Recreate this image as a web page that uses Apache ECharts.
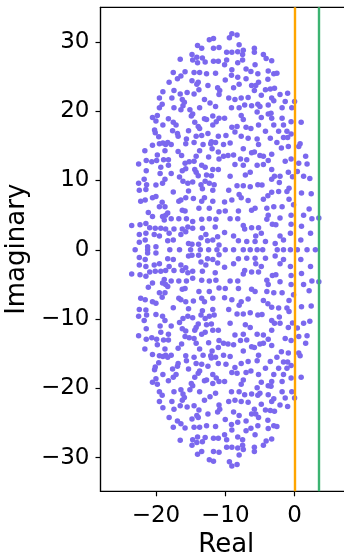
<!DOCTYPE html>
<html><head><meta charset="utf-8">
<script src="https://cdn.jsdelivr.net/npm/echarts@6/dist/echarts.min.js"></script>
<style>html,body{margin:0;padding:0;background:#fff}#c{width:344px;height:553px}</style>
</head><body><div id="c"></div>
<script>
// Eigenvalues: [real, imaginary]
const upperHalf = [
[-12.3,30.3],[-11.7,30.5],[-14.0,29.5],[-13.4,29.1],[-11.7,29.1],[-10.9,29.2],[-14.8,28.2],[-16.5,27.5],[-14.7,27.4],[-14.1,27.8],[-13.3,27.7],[-14.0,27.0],[-12.9,27.1],[-11.7,27.2],[-11.0,27.2],[-17.5,25.6],[-15.8,25.7],[-14.5,25.6],[-13.7,25.6],[-12.7,25.4],[-11.4,25.5],[-16.4,25.1],[-16.9,24.7],[-14.8,24.4],[-14.1,23.9],[-13.9,24.2],[-18.1,24.2],[-17.4,23.0],[-16.5,22.5],[-15.5,22.7],[-14.5,22.5],[-13.8,23.1],[-12.5,23.7],[-11.1,23.4],[-10.8,23.0],[-19.0,22.8],[-19.5,21.9],[-17.7,21.9],[-16.2,21.7],[-15.9,21.3],[-16.1,20.8],[-15.1,20.2],[-13.7,20.5],[-13.0,21.7],[-12.2,21.2],[-11.4,20.7],[-10.9,22.4],[-19.1,21.0],[-19.5,20.5],[-17.4,20.5],[-16.4,20.2],[-14.7,19.6],[-14.9,19.3],[-14.4,18.4],[-13.0,18.9],[-12.7,18.8],[-11.8,19.3],[-10.9,19.0],[-20.5,19.1],[-19.8,19.4],[-20.0,18.6],[-18.2,18.9],[-17.5,18.4],[-17.1,18.0],[-19.0,18.0],[-20.2,17.3],[-20.1,16.9],[-17.6,17.2],[-16.9,16.8],[-16.8,16.4],[-15.3,17.2],[-13.9,17.8],[-13.7,17.5],[-11.8,18.0],[-11.3,18.5],[-19.6,16.3],[-15.6,16.0],[-14.2,16.4],[-13.4,16.5],[-12.5,16.8],[-12.0,15.6],[-12.1,15.3],[-11.0,16.4],[-20.5,15.1],[-19.5,15.3],[-19.0,15.4],[-18.6,15.2],[-18.3,15.5],[-17.8,15.2],[-15.7,15.3],[-14.5,15.5],[-13.2,15.2],[-11.4,15.5],[-21.6,14.3],[-18.7,14.3],[-16.8,14.2],[-16.3,13.6],[-13.7,14.3],[-14.2,13.5],[-11.9,14.6],[-11.0,14.1],[-19.8,13.7],[-20.6,12.7],[-21.4,12.9],[-19.9,12.9],[-18.9,13.0],[-18.2,13.0],[-15.8,12.5],[-15.2,12.7],[-14.5,12.8],[-12.4,13.4],[-10.9,13.1],[-22.5,12.4],[-19.3,11.9],[-18.2,12.2],[-16.2,11.4],[-15.7,11.7],[-14.4,11.6],[-14.2,11.2],[-13.4,12.2],[-12.9,11.9],[-11.8,11.6],[-11.0,11.6],[-21.4,11.4],[-19.4,11.0],[-17.8,11.0],[-16.6,10.5],[-13.9,10.7],[-12.7,10.8],[-12.0,10.7],
[-9.05,31.2],[-8.3,31.0],[-9.4,30.6],[-8.0,29.6],[-9.8,28.5],[-9.05,28.5],[-8.2,28.6],[-7.4,28.8],[-5.8,29.1],[-5.8,28.5],[-7.5,28.2],[-4.5,28.2],[-4.1,27.6],[-3.3,27.3],[-9.8,27.4],[-7.5,27.4],[-8.2,27.0],[-5.7,26.7],[-10.1,26.7],[-9.05,26.0],[-7.0,26.1],[-6.3,25.75],[-5.3,25.4],[-3.8,25.8],[-3.0,25.4],[-2.55,25.5],[-9.1,25.2],[-8.2,24.9],[-7.0,24.7],[-3.85,24.6],[-10.0,24.5],[-8.0,23.9],[-6.2,23.7],[-5.6,23.7],[-5.2,24.2],[-8.8,23.4],[-4.2,23.1],[-3.5,23.2],[-2.9,23.3],[-5.8,23.0],[-4.8,22.3],[-2.1,22.4],[-1.0,22.6],[-9.5,21.9],[-8.6,21.7],[-7.7,21.9],[-6.7,22.0],[-3.3,21.9],[-3.0,21.5],[-1.35,21.4],[0.0,21.4],[-7.2,20.9],[-6.2,20.8],[-5.3,21.0],[-5.0,20.7],[-3.8,20.9],[-8.0,20.5],[-1.8,20.5],[-0.4,20.5],[-9.1,20.5],[-5.4,19.9],[-3.8,19.6],[-3.4,19.7],[-7.7,19.4],[-4.8,19.1],[-3.3,19.0],[-1.8,19.0],[-10.1,19.0],[-7.4,18.8],[-0.5,18.5],[0.95,18.4],[-9.05,17.7],[-8.3,17.8],[-7.0,17.7],[-5.2,18.0],[-3.0,18.0],[-1.6,18.0],[-6.3,17.5],[-8.6,17.0],[-4.2,17.1],[-2.3,17.1],[-1.1,17.1],[-0.5,16.7],[-9.9,16.5],[-7.7,16.4],[-6.7,16.1],[-5.4,16.0],[-3.5,16.1],[-1.6,16.2],[-1.0,16.2],[-5.2,15.2],[-2.55,15.5],[0.8,15.3],[0.6,14.9],[-9.3,15.4],[-10.25,15.2],[-7.4,14.6],[-6.2,14.0],[-5.8,14.1],[-5.0,13.6],[-4.5,13.5],[-3.3,13.8],[-1.9,14.7],[-0.9,14.9],[-10.25,13.5],[-9.6,13.6],[-8.8,13.7],[-7.8,13.1],[-6.9,13.0],[-3.8,12.9],[-1.35,12.8],[-0.5,13.1],[1.6,13.5],[-8.6,12.3],[-7.4,12.2],[-5.4,12.2],[-4.5,12.3],[0.6,12.5],[1.8,12.4],[-6.4,11.2],[-7.1,10.8],[-3.3,11.6],[-0.9,11.2],[-9.3,10.6],[-2.9,10.6],[-2.1,10.6],[1.3,10.6],
[-22.5,9.6],[-21.7,10.2],[-21.35,9.4],[-22.4,8.6],[-21.45,8.7],[-20.0,9.35],[-19.05,9.6],[-18.7,10.2],[-16.1,9.9],[-15.4,9.6],[-14.7,9.8],[-13.5,9.4],[-12.9,9.9],[-12.3,9.6],[-11.6,9.4],[-13.3,8.8],[-11.8,8.6],[-22.2,7.0],[-21.55,7.2],[-20.5,7.5],[-20.0,7.7],[-19.1,6.85],[-19.5,6.2],[-18.7,6.2],[-17.5,8.35],[-16.7,7.0],[-16.4,7.2],[-15.7,7.5],[-15.3,8.5],[-14.6,7.4],[-13.4,7.0],[-13.0,7.5],[-11.8,7.0],[-13.8,6.0],[-12.3,6.0],[-21.1,5.4],[-20.5,4.8],[-19.05,4.8],[-18.6,5.0],[-18.3,5.3],[-17.8,4.5],[-18.8,4.3],[-16.2,5.7],[-15.8,5.6],[-16.7,4.5],[-15.6,4.5],[-14.7,4.1],[-13.4,4.4],[-12.3,4.5],[-11.35,4.4],[-10.9,5.5],[-23.5,3.5],[-22.3,3.6],[-21.45,3.8],[-20.9,3.2],[-20.1,3.1],[-19.3,3.1],[-18.6,3.0],[-17.4,3.0],[-16.2,3.0],[-15.4,3.3],[-14.7,3.1],[-13.3,3.1],[-11.45,3.3],[-22.4,2.2],[-21.45,2.4],[-21.55,1.4],[-20.25,2.2],[-19.5,2.0],[-18.1,2.4],[-16.4,2.2],[-15.7,2.6],[-13.5,1.75],[-12.8,2.2],[-11.8,1.4],[-11.1,1.9],[-18.3,1.3],[-17.5,1.4],[-15.3,0.9],[-14.8,0.8],[-13.85,0.8],[-12.55,1.3],[-10.9,0.7],[-22.4,1.1],[-21.2,0.45],[-20.0,0.45],
[-3.3,10.2],[-0.3,10.55],[-2.2,9.7],[-8.3,9.25],[-7.4,9.25],[-6.4,9.1],[-5.3,9.4],[-4.7,9.35],[-0.8,8.9],[-9.5,8.6],[-8.0,8.0],[-7.7,7.5],[-6.7,7.1],[-4.5,7.3],[-3.85,7.8],[-3.3,8.3],[-2.3,8.4],[-1.1,8.4],[-0.8,7.3],[-10.1,6.9],[-9.05,7.2],[-6.2,5.7],[-5.7,6.0],[-4.0,6.0],[-3.0,6.2],[-1.8,6.2],[-0.15,6.5],[-10.0,5.6],[-8.1,5.6],[-9.3,4.5],[-8.2,4.5],[-3.8,5.0],[-4.0,4.4],[-3.2,3.7],[-2.1,4.6],[-0.5,5.0],[-7.4,3.5],[-7.2,3.0],[-6.2,3.2],[-5.2,3.2],[-2.7,3.6],[-0.5,3.7],[-10.1,2.5],[-8.8,2.0],[-5.6,2.0],[-4.8,2.4],[-2.1,2.0],[-0.6,2.4],[-8.1,1.3],[-6.9,1.2],[-5.7,1.2],[-4.2,1.2],[-2.8,0.9],[-1.6,1.4],
[0.4,11.3],[2.2,10.3],[2.4,8.1],[1.0,8.2],[2.1,5.9],[1.3,5.0],[2.5,4.5],[3.5,4.6],[1.0,3.4],[2.3,2.4],[0.9,1.4]
];
const lowerHalf = [
[-12.3,-30.3],[-11.7,-30.5],[-14.0,-29.5],[-13.4,-29.1],[-11.7,-29.1],[-10.9,-29.2],[-14.8,-28.2],[-16.5,-27.5],[-14.7,-27.4],[-14.1,-27.8],[-13.3,-27.7],[-14.0,-27.0],[-12.9,-27.1],[-11.7,-27.2],[-11.0,-27.2],[-17.5,-25.6],[-15.8,-25.7],[-14.5,-25.6],[-13.7,-25.6],[-12.7,-25.4],[-11.4,-25.5],[-16.4,-25.1],[-16.9,-24.7],[-14.8,-24.4],[-14.1,-23.9],[-13.9,-24.2],[-18.1,-24.2],[-17.4,-23.0],[-16.5,-22.5],[-15.5,-22.7],[-14.5,-22.5],[-13.8,-23.1],[-12.5,-23.7],[-11.1,-23.4],[-10.8,-23.0],[-19.0,-22.8],[-19.5,-21.9],[-17.7,-21.9],[-16.2,-21.7],[-15.9,-21.3],[-16.1,-20.8],[-15.1,-20.2],[-13.7,-20.5],[-13.0,-21.7],[-12.2,-21.2],[-11.4,-20.7],[-10.9,-22.4],[-19.1,-21.0],[-19.5,-20.5],[-17.4,-20.5],[-16.4,-20.2],[-14.7,-19.6],[-14.9,-19.3],[-14.4,-18.4],[-13.0,-18.9],[-12.7,-18.8],[-11.8,-19.3],[-10.9,-19.0],[-20.5,-19.1],[-19.8,-19.4],[-20.0,-18.6],[-18.2,-18.9],[-17.5,-18.4],[-17.1,-18.0],[-19.0,-18.0],[-20.2,-17.3],[-20.1,-16.9],[-17.6,-17.2],[-16.9,-16.8],[-16.8,-16.4],[-15.3,-17.2],[-13.9,-17.8],[-13.7,-17.5],[-11.8,-18.0],[-11.3,-18.5],[-19.6,-16.3],[-15.6,-16.0],[-14.2,-16.4],[-13.4,-16.5],[-12.5,-16.8],[-12.0,-15.6],[-12.1,-15.3],[-11.0,-16.4],[-20.5,-15.1],[-19.5,-15.3],[-19.0,-15.4],[-18.6,-15.2],[-18.3,-15.5],[-17.8,-15.2],[-15.7,-15.3],[-14.5,-15.5],[-13.2,-15.2],[-11.4,-15.5],[-21.6,-14.3],[-18.7,-14.3],[-16.8,-14.2],[-16.3,-13.6],[-13.7,-14.3],[-14.2,-13.5],[-11.9,-14.6],[-11.0,-14.1],[-19.8,-13.7],[-20.6,-12.7],[-21.4,-12.9],[-19.9,-12.9],[-18.9,-13.0],[-18.2,-13.0],[-15.8,-12.5],[-15.2,-12.7],[-14.5,-12.8],[-12.4,-13.4],[-10.9,-13.1],[-22.5,-12.4],[-19.3,-11.9],[-18.2,-12.2],[-16.2,-11.4],[-15.7,-11.7],[-14.4,-11.6],[-14.2,-11.2],[-13.4,-12.2],[-12.9,-11.9],[-11.8,-11.6],[-11.0,-11.6],[-21.4,-11.4],[-19.4,-11.0],[-17.8,-11.0],[-16.6,-10.5],[-13.9,-10.7],[-12.7,-10.8],[-12.0,-10.7],
[-9.05,-31.2],[-8.3,-31.0],[-9.4,-30.6],[-8.0,-29.6],[-9.8,-28.5],[-9.05,-28.5],[-8.2,-28.6],[-7.4,-28.8],[-5.8,-29.1],[-5.8,-28.5],[-7.5,-28.2],[-4.5,-28.2],[-4.1,-27.6],[-3.3,-27.3],[-9.8,-27.4],[-7.5,-27.4],[-8.2,-27.0],[-5.7,-26.7],[-10.1,-26.7],[-9.05,-26.0],[-7.0,-26.1],[-6.3,-25.75],[-5.3,-25.4],[-3.8,-25.8],[-3.0,-25.4],[-2.55,-25.5],[-9.1,-25.2],[-8.2,-24.9],[-7.0,-24.7],[-3.85,-24.6],[-10.0,-24.5],[-8.0,-23.9],[-6.2,-23.7],[-5.6,-23.7],[-5.2,-24.2],[-8.8,-23.4],[-4.2,-23.1],[-3.5,-23.2],[-2.9,-23.3],[-5.8,-23.0],[-4.8,-22.3],[-2.1,-22.4],[-1.0,-22.6],[-9.5,-21.9],[-8.6,-21.7],[-7.7,-21.9],[-6.7,-22.0],[-3.3,-21.9],[-3.0,-21.5],[-1.35,-21.4],[0.0,-21.4],[-7.2,-20.9],[-6.2,-20.8],[-5.3,-21.0],[-5.0,-20.7],[-3.8,-20.9],[-8.0,-20.5],[-1.8,-20.5],[-0.4,-20.5],[-9.1,-20.5],[-5.4,-19.9],[-3.8,-19.6],[-3.4,-19.7],[-7.7,-19.4],[-4.8,-19.1],[-3.3,-19.0],[-1.8,-19.0],[-10.1,-19.0],[-7.4,-18.8],[-0.5,-18.5],[0.95,-18.4],[-9.05,-17.7],[-8.3,-17.8],[-7.0,-17.7],[-5.2,-18.0],[-3.0,-18.0],[-1.6,-18.0],[-6.3,-17.5],[-8.6,-17.0],[-4.2,-17.1],[-2.3,-17.1],[-1.1,-17.1],[-0.5,-16.7],[-9.9,-16.5],[-7.7,-16.4],[-6.7,-16.1],[-5.4,-16.0],[-3.5,-16.1],[-1.6,-16.2],[-1.0,-16.2],[-5.2,-15.2],[-2.55,-15.5],[0.8,-15.3],[0.6,-14.9],[-9.3,-15.4],[-10.25,-15.2],[-7.4,-14.6],[-6.2,-14.0],[-5.8,-14.1],[-5.0,-13.6],[-4.5,-13.5],[-3.3,-13.8],[-1.9,-14.7],[-0.9,-14.9],[-10.25,-13.5],[-9.6,-13.6],[-8.8,-13.7],[-7.8,-13.1],[-6.9,-13.0],[-3.8,-12.9],[-1.35,-12.8],[-0.5,-13.1],[1.6,-13.5],[-8.6,-12.3],[-7.4,-12.2],[-5.4,-12.2],[-4.5,-12.3],[0.6,-12.5],[1.8,-12.4],[-6.4,-11.2],[-7.1,-10.8],[-3.3,-11.6],[-0.9,-11.2],[-9.3,-10.6],[-2.9,-10.6],[-2.1,-10.6],[1.3,-10.6],
[-22.5,-9.6],[-21.7,-10.2],[-21.35,-9.4],[-22.4,-8.6],[-21.45,-8.7],[-20.0,-9.35],[-19.05,-9.6],[-18.7,-10.2],[-16.1,-9.9],[-15.4,-9.6],[-14.7,-9.8],[-13.5,-9.4],[-12.9,-9.9],[-12.3,-9.6],[-11.6,-9.4],[-13.3,-8.8],[-11.8,-8.6],[-22.2,-7.0],[-21.55,-7.2],[-20.5,-7.5],[-20.0,-7.7],[-19.1,-6.85],[-19.5,-6.2],[-18.7,-6.2],[-17.5,-8.35],[-16.7,-7.0],[-16.4,-7.2],[-15.7,-7.5],[-15.3,-8.5],[-14.6,-7.4],[-13.4,-7.0],[-13.0,-7.5],[-11.8,-7.0],[-13.8,-6.0],[-12.3,-6.0],[-21.1,-5.4],[-20.5,-4.8],[-19.05,-4.8],[-18.6,-5.0],[-18.3,-5.3],[-17.8,-4.5],[-18.8,-4.3],[-16.2,-5.7],[-15.8,-5.6],[-16.7,-4.5],[-15.6,-4.5],[-14.7,-4.1],[-13.4,-4.4],[-12.3,-4.5],[-11.35,-4.4],[-10.9,-5.5],[-23.5,-3.5],[-22.3,-3.6],[-21.45,-3.8],[-20.9,-3.2],[-20.1,-3.1],[-19.3,-3.1],[-18.6,-3.0],[-17.4,-3.0],[-16.2,-3.0],[-15.4,-3.3],[-14.7,-3.1],[-13.3,-3.1],[-11.45,-3.3],[-22.4,-2.2],[-21.45,-2.4],[-21.55,-1.4],[-20.25,-2.2],[-19.5,-2.0],[-18.1,-2.4],[-16.4,-2.2],[-15.7,-2.6],[-13.5,-1.75],[-12.8,-2.2],[-11.8,-1.4],[-11.1,-1.9],[-18.3,-1.3],[-17.5,-1.4],[-15.3,-0.9],[-14.8,-0.8],[-13.85,-0.8],[-12.55,-1.3],[-10.9,-0.7],[-22.4,-1.1],[-21.2,-0.45],[-20.0,-0.45],
[-3.3,-10.2],[-0.3,-10.55],[-2.2,-9.7],[-8.3,-9.25],[-7.4,-9.25],[-6.4,-9.1],[-5.3,-9.4],[-4.7,-9.35],[-0.8,-8.9],[-9.5,-8.6],[-8.0,-8.0],[-7.7,-7.5],[-6.7,-7.1],[-4.5,-7.3],[-3.85,-7.8],[-3.3,-8.3],[-2.3,-8.4],[-1.1,-8.4],[-0.8,-7.3],[-10.1,-6.9],[-9.05,-7.2],[-6.2,-5.7],[-5.7,-6.0],[-4.0,-6.0],[-3.0,-6.2],[-1.8,-6.2],[-0.15,-6.5],[-10.0,-5.6],[-8.1,-5.6],[-9.3,-4.5],[-8.2,-4.5],[-3.8,-5.0],[-4.0,-4.4],[-3.2,-3.7],[-2.1,-4.6],[-0.5,-5.0],[-7.4,-3.5],[-7.2,-3.0],[-6.2,-3.2],[-5.2,-3.2],[-2.7,-3.6],[-0.5,-3.7],[-10.1,-2.5],[-8.8,-2.0],[-5.6,-2.0],[-4.8,-2.4],[-2.1,-2.0],[-0.6,-2.4],[-8.1,-1.3],[-6.9,-1.2],[-5.7,-1.2],[-4.2,-1.2],[-2.8,-0.9],[-1.6,-1.4],
[0.4,-11.3],[2.2,-10.3],[2.4,-8.1],[1.0,-8.2],[2.1,-5.9],[1.3,-5.0],[2.5,-4.5],[3.5,-4.6],[1.0,-3.4],[2.3,-2.4],[0.9,-1.4]
];
const realAxis = [[-23.0,0],[-21.2,0],[-18.0,0],[-16.6,0],[-15.0,0],[-13.6,0],[-12.4,0],[-11.2,0],[-10.0,0],[-8.8,0],[-7.4,0],[-6.4,0],[-5.4,0],[-4.6,0],[-2.5,0],[-1.6,0],[-0.6,0],[0.4,0],[1.8,0],[3.0,0]];

const verticalLines = [0, 3.5];
const lineColors = ['#FFA500', '#3CB371'];
const xTicks = [-20, -10, 0];
const yTicks = [-30, -20, -10, 0, 10, 20, 30];

const fmt = v => String(v).replace('-', '\u2212');
const font = 'DejaVu Sans';
const chart = echarts.init(document.getElementById('c'), null, {renderer: 'canvas'});
chart.setOption({
  animation: false,
  grid: {left: 100.5, top: 7.3, width: 251.6, height: 484, show: true, borderColor: '#000', borderWidth: 1.2,
         containLabel: false, outerBoundsMode: 'none'},
  xAxis: {
    type: 'value', min: -28, max: 8.3,
    name: 'Real', nameLocation: 'middle', nameGap: 40,
    nameTextStyle: {fontSize: 26, color: '#000', fontFamily: font},
    axisLine: {show: true, onZero: false, lineStyle: {color: '#000', width: 1.2}},
    axisTick: {show: true, inside: false, length: 5, customValues: xTicks, lineStyle: {color: '#000', width: 1.2}},
    axisLabel: {customValues: xTicks, fontSize: 23, color: '#000', fontFamily: font, margin: 13, formatter: fmt},
    splitLine: {show: false}
  },
  yAxis: {
    type: 'value', min: -34.85, max: 35,
    name: 'Imaginary', nameLocation: 'middle', nameGap: 66, nameRotate: 90,
    nameTextStyle: {fontSize: 26, color: '#000', fontFamily: font},
    axisLine: {show: true, onZero: false, lineStyle: {color: '#000', width: 1.2}},
    axisTick: {show: true, inside: false, length: 5, customValues: yTicks, lineStyle: {color: '#000', width: 1.2}},
    axisLabel: {customValues: yTicks, fontSize: 23, color: '#000', fontFamily: font, margin: 11, formatter: fmt},
    splitLine: {show: false}
  },
  series: [{
    type: 'scatter',
    data: upperHalf.concat(realAxis, lowerHalf),
    symbolSize: 5.5,
    itemStyle: {color: '#7B68EE', opacity: 1},
    z: 2,
    markLine: {
      silent: true, symbol: 'none', label: {show: false}, z: 5,
      data: verticalLines.map((x, i) => ({xAxis: x, lineStyle: {color: lineColors[i], width: 2.4, type: 'solid'}}))
    }
  }]
});
</script>
</body></html>
